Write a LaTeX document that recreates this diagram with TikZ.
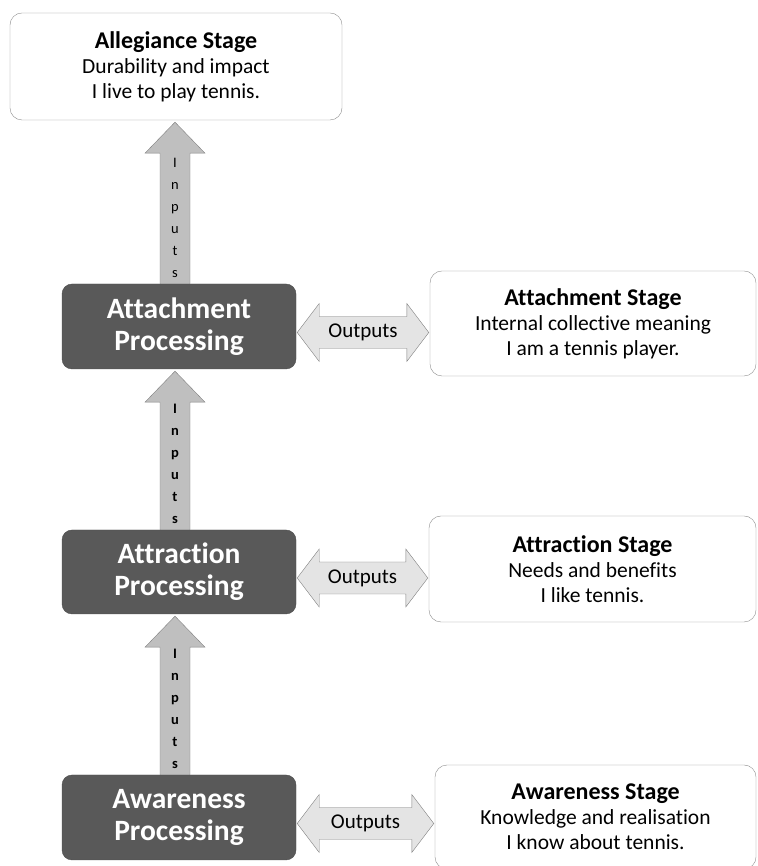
\documentclass[tikz,border=0pt]{standalone}
\usepackage{fontspec}
\setmainfont{Carlito}[Ligatures=NoCommon]
\usetikzlibrary{calc}
\definecolor{procgray}{HTML}{595959}
\definecolor{edgegray}{HTML}{8C8C8C}
\definecolor{ingray}{HTML}{BFBFBF}
\definecolor{outgray}{HTML}{E4E4E4}
\newcommand\stagetitle[1]{{\fontsize{24}{25}\selectfont\bfseries #1}}
\begin{document}
\begin{tikzpicture}[x=1pt,y=1pt,
  stagebox/.style={draw=edgegray,fill=white,rounded corners=12pt,align=center,inner sep=0pt,
    font=\fontsize{21.5}{25}\selectfont},
  procbox/.style={draw=procgray!85!black,fill=procgray,rounded corners=10pt,align=center,inner sep=0pt,
    minimum width=234pt,minimum height=85pt,text=white,font=\fontsize{29.5}{32}\selectfont\bfseries},
  inarrow/.style={draw=gray,fill=ingray},
  outarrow/.style={draw=gray,fill=outgray},
  inputs/.style={align=center,inner sep=0pt,font=\fontsize{14.5}{22}\selectfont}]
\useasboundingbox (0,0) rectangle (757,866);
\coordinate (mid) at (175,0);
% stages
\node[stagebox,minimum width=332pt,minimum height=107pt] (alleg) at (176,799.5)
  {\stagetitle{Allegiance Stage}\\Durability and impact\\I live to play tennis.};
\node[stagebox,minimum width=326pt,minimum height=105pt] (attstage) at (593,542.5)
  {\stagetitle{Attachment Stage}\\Internal collective meaning\\I am a tennis player.};
\node[stagebox,minimum width=327pt,minimum height=106pt] (attrstage) at (592.5,297)
  {\stagetitle{Attraction Stage}\\Needs and benefits\\I like tennis.};
\node[stagebox,minimum width=321pt,minimum height=104pt] (awstage) at (595.5,49)
  {\stagetitle{Awareness Stage}\\Knowledge and realisation\\I know about tennis.};
% processing
\node[procbox] (attproc) at (179,539.5) {Attachment\\Processing};
\node[procbox,minimum height=84pt] (attrproc) at (179,294) {Attraction\\Processing};
\node[procbox] (awproc) at (179,48.5) {Awareness\\Processing};
% inputs
\foreach \lo/\hi/\wt in {awproc/attrproc/\bfseries, attrproc/attproc/\bfseries, attproc/alleg/\mdseries}{
  \draw[inarrow] ($(mid |- \lo.north)+(-15,0)$) -- ($(mid |- \hi.south)+(-15,-33)$)
    -- ($(mid |- \hi.south)+(-30,-33)$) -- ($(mid |- \hi.south)+(0,-2)$)
    -- ($(mid |- \hi.south)+(30,-33)$) -- ($(mid |- \hi.south)+(15,-33)$)
    -- ($(mid |- \lo.north)+(15,0)$) -- cycle;
  \node[inputs,anchor=south] at ($(mid |- \lo.north)+(0,6)$) {\wt I\\\wt n\\\wt p\\\wt u\\\wt t\\\wt s};
}
% outputs
\foreach \p/\s in {attproc/attstage, attrproc/attrstage, awproc/awstage}{
  \path ($(\p.east)+(1,-6)$) coordinate (L) ($(\p.east -| \s.west)+(-1,-6)$) coordinate (R);
  \draw[outarrow] (L) -- ++(22,29) -- ++(0,-13) -- ($(R)+(-22,16)$) -- ++(0,13) -- (R)
    -- ++(-22,-29) -- ++(0,13) -- ($(L)+(22,-16)$) -- ++(0,-13) -- cycle;
  \node[font=\fontsize{21}{24}\selectfont] (out\p) at ($(L)!0.5!(R)$) {Outputs};
}
\end{tikzpicture}
\end{document}
